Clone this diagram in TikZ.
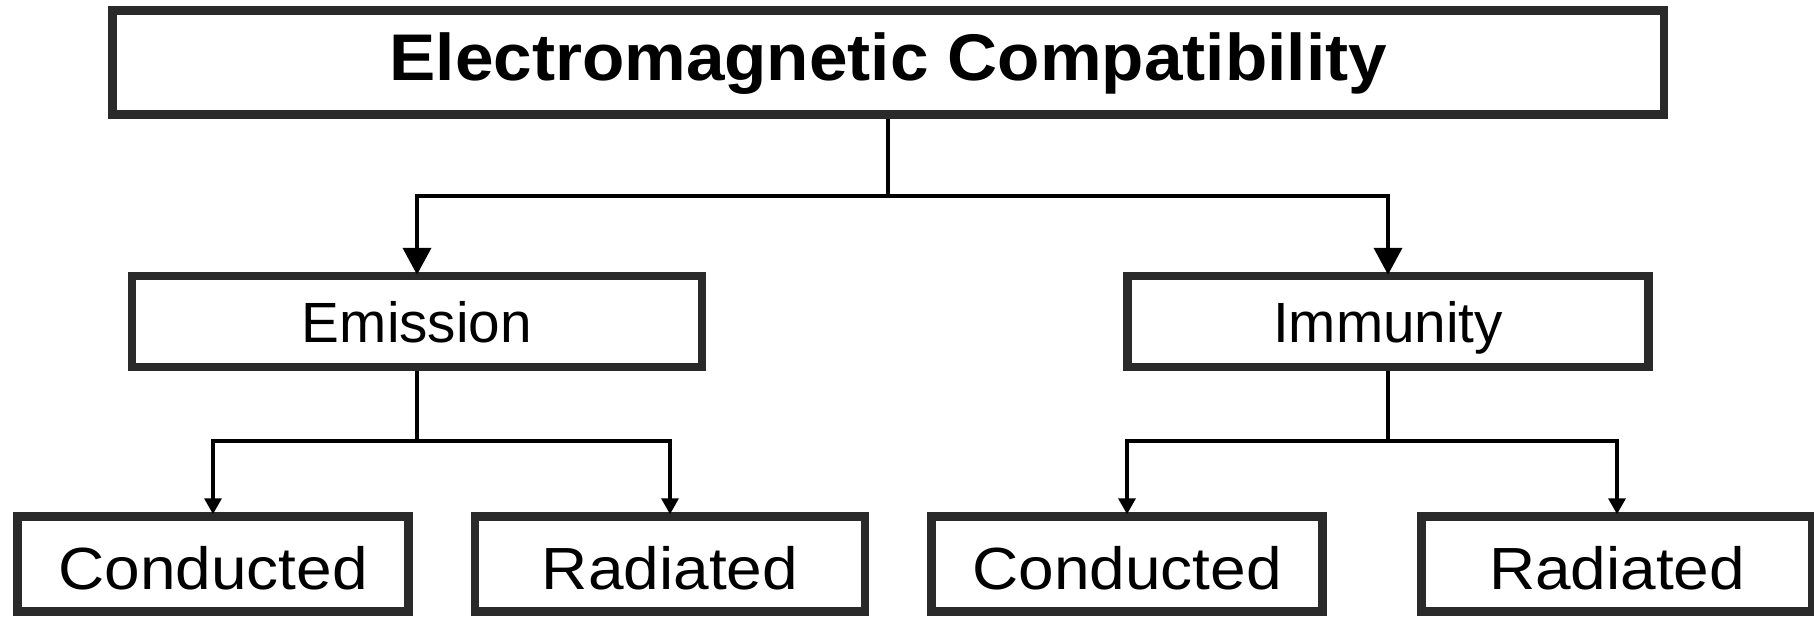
\documentclass[tikz,border=0pt]{standalone}
\usepackage{fontspec}
\setmainfont{Liberation Sans}
\usetikzlibrary{arrows.meta}
\definecolor{boxc}{HTML}{2A2A2A}
\begin{document}
\begin{tikzpicture}[x=1pt,y=-1pt,
  box/.style={draw=boxc, line width=8.5pt, inner sep=0pt, fill=white},
  midbox/.style={box, minimum height=91pt, font=\fontsize{56.7}{60}\selectfont, text height=41.6pt, text depth=0pt},
  lowbox/.style={box, minimum width=391pt, minimum height=95pt, font=\fontsize{59.5}{62}\selectfont, text height=50pt, text depth=0pt},
  bigarrow/.style={line width=4pt, draw=black, -{Triangle[width=28pt,length=27pt]}, shorten >=-3pt},
  smallarrow/.style={line width=3.5pt, draw=black, -{Triangle[width=17pt,length=16pt]}, shorten >=-2pt},
  trunk/.style={line width=4pt, draw=black},
  smalltrunk/.style={line width=3.5pt, draw=black}]
\useasboundingbox (0,0) rectangle (1814,616);
\node[box, minimum width=1551.5pt, minimum height=104pt, font=\fontsize{66}{70}\selectfont\bfseries, text height=47pt, text depth=12pt] (ec) at (888.25,62.5) {\scalebox{1.05}[1]{Electromagnetic Compatibility}};
\node[midbox, minimum width=570pt] (em) at (417,321.5) {Emission};
\node[midbox, minimum width=521pt] (im) at (1388,321.5) {Immunity};
\node[lowbox] (c1) at (213,564) {\scalebox{1.075}[1]{Conducted}};
\node[lowbox, minimum width=390pt] (r1) at (670,564) {\scalebox{1.075}[1]{Radiated}};
\node[lowbox] (c2) at (1127,564) {\scalebox{1.075}[1]{Conducted}};
\node[lowbox] (r2) at (1617,564) {\scalebox{1.075}[1]{Radiated}};
\coordinate (j1) at (888.25,196);
\coordinate (j2) at (417,441);
\coordinate (j3) at (1388,441);
\draw[trunk] (ec.south) -- (j1);
\draw[bigarrow] (j1) -| (em.north);
\draw[bigarrow] (j1) -| (im.north);
\draw[smalltrunk] (em.south) -- (j2);
\draw[smallarrow] (j2) -| (c1.north);
\draw[smallarrow] (j2) -| (r1.north);
\draw[smalltrunk] (im.south) -- (j3);
\draw[smallarrow] (j3) -| (c2.north);
\draw[smallarrow] (j3) -| (r2.north);
\end{tikzpicture}
\end{document}
